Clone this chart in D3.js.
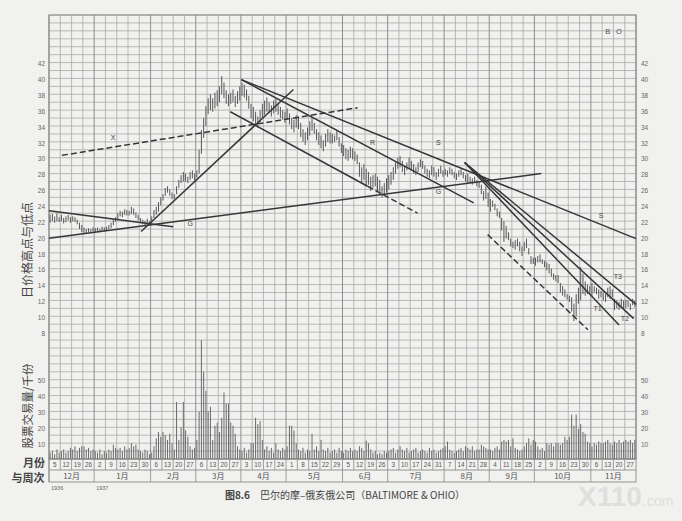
<!DOCTYPE html>
<html><head><meta charset="utf-8">
<script src="https://cdn.jsdelivr.net/npm/d3@7"></script>
<style>html,body{margin:0;padding:0;background:#f1f1ef;}svg{display:block;}</style>
</head><body><svg id="c" width="682" height="521"></svg>
<script>
// ---------- data ----------
const weekLabels = ["5","12","19","26","2","9","16","23","30","6","13","20","27","6","13","20","27","3","10","17","24","1","8","15","22","29","5","12","19","26","3","10","17","24","31","7","14","21","28","4","11","18","25","2","9","16","23","30","6","13","20","27"];
const monthLabels = ["12月","1月","2月","3月","4月","5月","6月","7月","8月","9月","10月","11月"];
const monthWeeks = [4,5,4,4,4,5,4,5,4,4,5,4];
const priceTicks = [8,10,12,14,16,18,20,22,24,26,28,30,32,34,36,38,40,42];
const volumeTicks = [10,20,30,40,50];
// daily high/low, grouped by week
const priceBars = [
 [[22.8,21.8],[22.9,22.0],[22.6,21.8],[23.0,22.0],[22.5,21.9]],
 [[22.8,22.0],[22.4,21.7],[22.6,21.9],[22.8,22.1],[22.5,21.8]],
 [[22.6,22.0],[22.5,21.9],[22.2,21.6],[21.8,21.0],[21.5,20.6]],
 [[21.2,20.5],[21.0,20.4],[21.1,20.6],[21.0,20.5],[21.2,20.7]],
 [[21.1,20.6],[21.2,20.7],[21.0,20.6],[21.3,20.8],[21.2,20.7]],
 [[21.3,20.8],[21.5,21.0],[21.8,21.1],[22.2,21.5],[22.5,21.9]],
 [[23.0,22.2],[23.3,22.6],[23.2,22.5],[23.5,22.8],[23.4,22.7]],
 [[23.3,22.7],[23.8,22.9],[23.6,22.8],[23.1,22.4],[22.8,22.1]],
 [[22.4,21.8],[22.2,21.6],[22.0,21.4],[22.3,21.6],[22.0,21.5]],
 [[22.6,21.8],[23.4,22.4],[23.8,22.8],[24.4,23.2],[25.0,24.0]],
 [[25.4,24.6],[26.2,25.2],[26.4,25.6],[26.0,25.2],[25.6,24.8]],
 [[25.4,24.8],[26.4,25.4],[27.2,26.2],[27.8,26.8],[28.2,27.0]],
 [[28.0,27.0],[27.6,26.8],[28.2,27.2],[28.4,27.4],[28.0,27.1]],
 [[28.4,27.5],[31.0,28.0],[33.5,30.5],[35.0,32.5],[36.5,34.0]],
 [[37.5,35.5],[38.0,36.0],[37.5,35.8],[38.2,36.2],[38.5,36.5]],
 [[39.0,37.0],[40.3,38.0],[39.5,37.5],[38.5,36.8],[38.0,36.5]],
 [[38.2,36.8],[38.6,37.0],[37.8,36.4],[38.4,36.8],[39.0,37.2]],
 [[39.5,37.8],[39.2,37.6],[38.6,37.2],[37.8,36.2],[36.8,35.0]],
 [[36.4,34.6],[35.8,34.0],[35.2,33.8],[36.0,34.4],[36.8,35.0]],
 [[37.2,35.4],[37.6,35.8],[37.0,35.6],[36.6,35.2],[37.2,35.6]],
 [[37.4,35.8],[36.8,35.4],[36.4,35.0],[36.0,34.8],[35.8,34.4]],
 [[36.2,34.8],[35.6,34.2],[35.0,33.6],[34.8,33.2],[35.4,33.8]],
 [[35.2,33.6],[34.4,32.6],[33.6,32.0],[33.2,31.6],[33.8,32.2]],
 [[34.6,32.8],[35.0,33.4],[34.4,33.0],[33.6,32.2],[33.2,31.6]],
 [[32.8,31.2],[32.2,30.8],[33.0,31.4],[33.6,32.0],[33.2,31.8]],
 [[33.0,31.8],[32.8,32.0],[33.4,32.2],[32.6,31.4],[31.8,30.6]],
 [[31.6,30.2],[31.2,29.8],[31.0,29.6],[31.4,30.0],[31.2,29.8]],
 [[30.8,29.6],[30.4,29.2],[29.4,27.6],[28.8,26.8],[29.2,27.2]],
 [[28.6,26.4],[28.2,26.6],[27.6,25.8],[27.8,26.2],[28.0,26.4]],
 [[27.6,25.8],[27.2,25.4],[26.4,25.0],[26.8,25.2],[27.4,25.6]],
 [[27.8,26.0],[28.2,26.6],[28.8,27.2],[29.4,28.0],[30.0,28.6]],
 [[30.2,28.8],[29.6,28.2],[29.0,27.8],[29.4,28.4],[30.0,28.6]],
 [[29.6,28.4],[29.2,28.0],[28.8,27.8],[29.4,28.2],[29.8,28.8]],
 [[29.6,28.6],[29.0,28.0],[28.6,27.6],[28.4,27.4],[29.0,27.8]],
 [[28.8,27.6],[28.2,27.2],[28.6,27.6],[29.0,28.0],[28.4,27.6]],
 [[28.6,27.8],[28.4,27.6],[28.8,28.0],[28.6,27.8],[28.2,27.4]],
 [[28.0,27.2],[28.4,27.6],[28.6,27.8],[28.2,27.4],[27.8,27.0]],
 [[28.0,26.8],[27.6,26.8],[27.4,26.6],[27.6,26.8],[27.2,26.4]],
 [[27.0,26.2],[26.6,25.4],[25.8,24.6],[26.4,24.8],[25.6,23.8]],
 [[24.8,23.2],[24.6,23.8],[24.2,23.4],[23.6,22.6],[23.2,22.4]],
 [[22.4,20.8],[22.0,19.4],[21.4,19.8],[20.6,19.6],[19.8,18.8]],
 [[19.4,18.6],[19.6,18.4],[19.8,18.8],[19.4,18.2],[18.8,17.6]],
 [[19.4,18.2],[19.8,18.6],[18.6,17.8],[17.6,16.6],[17.4,16.6]],
 [[17.4,16.4],[17.6,16.8],[17.8,16.8],[17.2,16.6],[17.0,16.2]],
 [[16.8,15.8],[16.6,15.4],[16.0,15.0],[15.4,14.6],[15.2,14.4]],
 [[15.2,14.2],[14.2,13.0],[13.8,12.6],[13.4,12.4],[12.8,12.1]],
 [[12.6,11.8],[12.4,10.6],[11.6,9.4],[12.8,10.0],[13.6,11.6]],
 [[16.2,12.0],[15.4,12.8],[14.4,12.6],[14.0,12.8],[13.8,13.0]],
 [[14.2,12.6],[13.8,13.0],[13.6,12.8],[13.4,12.2],[13.2,12.4]],
 [[13.0,12.0],[12.8,11.8],[13.6,12.4],[13.8,12.2],[13.4,12.4]],
 [[12.2,10.8],[12.0,11.0],[11.8,10.8],[12.2,11.2],[12.0,11.0]],
 [[12.1,11.0],[12.0,11.2],[11.6,10.8],[12.2,11.4],[12.0,11.2]]
];
// daily volume (thousand shares), grouped by week
const volumes = [
 [4,5,3,6,4],[5,6,4,5,7],[6,8,5,7,8],[8,6,7,5,6],[5,4,6,3,5],[4,6,5,9,7],
 [6,7,5,8,6],[7,10,8,9,6],[5,4,6,5,3],[4,8,13,17,14],[17,15,12,16,10],[6,36,12,20,36],
 [18,14,8,6,7],[12,30,75,55,43],[30,33,12,21,23],[17,26,42,35,35],[23,21,16,8,6],[5,7,4,6,10],
 [10,26,22,24,12],[6,8,5,7,4],[10,6,5,7,6],[8,21,21,18,10],[6,5,7,4,6],[5,16,6,8,5],
 [12,6,5,7,4],[5,6,4,7,5],[4,6,5,7,5],[6,5,8,7,5],[11.5,10,6,4,5],[3,4,3,5,4],
 [5,6,7,4,6],[8,6,5,7,4],[5,6,7,4,5],[6,5,4,7,5],[6,4,5,6,7],[8,11,6,5,4],
 [5,6,7,5,8],[7,6,8,5,6],[6,9,8,7,6],[6,5,7,8,6],[11,12,11,12,8],[13,7,6,5,6],
 [8,10,13,9,12],[11,8,6,7,5],[10,9,10,8,10],[10,9,10,14,12],[14,28,21,28,19],[22,17,16,11,10],
 [8,10,9,11,10],[10,11,12,10,9],[11,10,12,10,11],[12,11,12,10,12]
];
// trend lines: [week, price] endpoints
const trendLines = [
 {a:[1.15,30.3], b:[27.33,36.3], dash:true},
 {a:[0,23.3], b:[11.0,21.3], dash:false},
 {a:[0,19.85], b:[43.6,28.0], dash:false},
 {a:[8.16,20.7], b:[21.65,38.6], dash:false},
 {a:[17.04,39.85], b:[52,19.8], dash:false},
 {a:[17.04,39.85], b:[37.62,24.3], dash:false},
 {a:[16.06,35.8], b:[28.22,26.4], dash:false},
 {a:[28.22,26.4], b:[32.65,23.0], dash:true},
 {a:[36.82,29.4], b:[52,11.5], dash:false},
 {a:[36.82,29.4], b:[51.8,9.7], dash:false},
 {a:[36.82,29.4], b:[50.5,8.9], dash:false},
 {a:[38.86,20.3], b:[47.74,8.3], dash:true}
];
const lineLabels = [
 {t:"X", w:5.68, p:32.5},{t:"G", w:12.5, p:21.6},{t:"R", w:28.66, p:31.8},
 {t:"S", w:34.5, p:31.8},{t:"G", w:34.5, p:25.6},{t:"S", w:48.9, p:22.6},
 {t:"T3", w:50.4, p:14.9},{t:"T1", w:48.6, p:10.9},{t:"T2", w:51.0, p:9.7}
];

// ---------- layout ----------
const L=49, R=636, T=15, B=459;
const svg = d3.select("#c");
const x = d3.scaleLinear().domain([0,52]).range([L,R]);
const y = d3.scaleLinear().domain([-8,48]).range([B,T]);
const yv = d3.scaleLinear().domain([0,280]).range([B,T]);
const font = "'Liberation Sans', Arial, sans-serif";
const cjk = "'Noto Sans CJK SC', sans-serif";

svg.append("rect").attr("width",682).attr("height",521).attr("fill","#f1f1ef");

// grid
const g = svg.append("g");
d3.range(-8,49).forEach(v=>{
  g.append("line").attr("x1",L).attr("x2",R).attr("y1",y(v)).attr("y2",y(v))
   .attr("stroke","#a9a9a9").attr("stroke-width",0.8);
});
const monthStarts = [0]; monthWeeks.reduce((s,n)=>{monthStarts.push(s+n);return s+n;},0);
d3.range(0,53).forEach(w=>{
  const dark = monthStarts.includes(w);
  g.append("line").attr("x1",x(w)).attr("x2",x(w)).attr("y1",T).attr("y2",B)
   .attr("stroke",dark?"#8e8e8e":"#a9a9a9").attr("stroke-width",dark?1:0.8);
});
g.append("rect").attr("x",L).attr("y",T).attr("width",R-L).attr("height",B-T)
 .attr("fill","none").attr("stroke","#8a8a8a").attr("stroke-width",1);

// B O
[["B",49],["O",50]].forEach(([t,w])=>{
  svg.append("text").attr("x",x(w)+5.6).attr("y",y(46)+1).attr("text-anchor","middle")
   .attr("dominant-baseline","middle").attr("font-family",font).attr("font-size",7.5)
   .attr("fill","#555").text(t);
});

// price tick labels
priceTicks.forEach(v=>{
  svg.append("text").attr("x",L-4).attr("y",y(v)+2).attr("text-anchor","end")
   .attr("dominant-baseline","middle").attr("font-family",font).attr("font-size",6.5)
   .attr("fill","#666").text(v);
  svg.append("text").attr("x",R+5).attr("y",y(v)+2).attr("text-anchor","start")
   .attr("dominant-baseline","middle").attr("font-family",font).attr("font-size",6.5)
   .attr("fill","#666").text(v);
});
volumeTicks.forEach(v=>{
  svg.append("text").attr("x",L-4).attr("y",yv(v)+2).attr("text-anchor","end")
   .attr("dominant-baseline","middle").attr("font-family",font).attr("font-size",6.5)
   .attr("fill","#666").text(v);
  svg.append("text").attr("x",R+5).attr("y",yv(v)+2).attr("text-anchor","start")
   .attr("dominant-baseline","middle").attr("font-family",font).attr("font-size",6.5)
   .attr("fill","#666").text(v);
});

// volume bars
const vg = svg.append("g");
volumes.forEach((wk,wi)=>{
  wk.forEach((v,di)=>{
    const xx = x(wi + (di+0.5)/wk.length);
    vg.append("line").attr("x1",xx).attr("x2",xx).attr("y1",yv(0)).attr("y2",yv(v))
      .attr("stroke","#6a6a6a").attr("stroke-width",1);
  });
});

// price bars
const pg = svg.append("g");
priceBars.forEach((wk,wi)=>{
  wk.forEach((d,di)=>{
    const xx = x(wi + (di+0.5)/wk.length);
    pg.append("line").attr("x1",xx).attr("x2",xx).attr("y1",y(d[0])).attr("y2",y(d[1]))
      .attr("stroke","#585858").attr("stroke-width",1);
  });
});

// trend lines
trendLines.forEach(l=>{
  svg.append("line").attr("x1",x(l.a[0])).attr("y1",y(l.a[1])).attr("x2",x(l.b[0])).attr("y2",y(l.b[1]))
    .attr("stroke","#363636").attr("stroke-width",1.5)
    .attr("stroke-dasharray",l.dash?"6,3":null);
});
lineLabels.forEach(l=>{
  svg.append("text").attr("x",x(l.w)).attr("y",y(l.p)).attr("text-anchor","middle")
   .attr("dominant-baseline","middle").attr("font-family",font).attr("font-size",7)
   .attr("fill","#444").text(l.t);
});

// bottom date rows
const rowY1=B, rowY2=470, rowY3=482;
svg.append("rect").attr("x",L).attr("y",rowY1).attr("width",R-L).attr("height",rowY3-rowY1)
 .attr("fill","none").attr("stroke","#8a8a8a").attr("stroke-width",0.9);
svg.append("line").attr("x1",L).attr("x2",R).attr("y1",rowY2).attr("y2",rowY2).attr("stroke","#8a8a8a").attr("stroke-width",0.9);
weekLabels.forEach((t,i)=>{
  svg.append("line").attr("x1",x(i)).attr("x2",x(i)).attr("y1",rowY1).attr("y2",rowY2).attr("stroke","#8a8a8a").attr("stroke-width",0.8);
  svg.append("text").attr("x",x(i+0.5)).attr("y",(rowY1+rowY2)/2+0.5).attr("text-anchor","middle")
   .attr("dominant-baseline","middle").attr("font-family",font).attr("font-size",6.3)
   .attr("fill","#555").text(t);
});
monthLabels.forEach((t,i)=>{
  const s=monthStarts[i], e=monthStarts[i+1];
  svg.append("line").attr("x1",x(s)).attr("x2",x(s)).attr("y1",rowY2).attr("y2",rowY3).attr("stroke","#8a8a8a").attr("stroke-width",0.8);
  svg.append("text").attr("x",x((s+e)/2)).attr("y",(rowY2+rowY3)/2+0.5).attr("text-anchor","middle")
   .attr("dominant-baseline","middle").attr("font-family",cjk).attr("font-size",8)
   .attr("fill","#555").text(t);
});
svg.append("text").attr("x",x(0)+2).attr("y",490).attr("font-family",font).attr("font-size",5.5).attr("fill","#666").text("1936");
svg.append("text").attr("x",x(4)+2).attr("y",490).attr("font-family",font).attr("font-size",5.5).attr("fill","#666").text("1937");

// axis titles
svg.append("text").attr("transform","translate(29,250) rotate(-90)").attr("text-anchor","middle")
 .attr("dominant-baseline","middle").attr("font-family",cjk).attr("font-size",12).attr("fill","#444").text("日价格高点与低点");
svg.append("text").attr("transform","translate(29,406) rotate(-90)").attr("text-anchor","middle")
 .attr("dominant-baseline","middle").attr("font-family",cjk).attr("font-size",11.5).attr("fill","#444").text("股票交易量/千份");
svg.append("text").attr("x",34).attr("y",464).attr("text-anchor","middle").attr("dominant-baseline","middle")
 .attr("font-family",cjk).attr("font-size",11).attr("font-weight","bold").attr("fill","#444").text("月份");
svg.append("text").attr("x",28).attr("y",479).attr("text-anchor","middle").attr("dominant-baseline","middle")
 .attr("font-family",cjk).attr("font-size",11).attr("font-weight","bold").attr("fill","#444").text("与周次");

// caption
const cap = svg.append("text").attr("x",345).attr("y",496).attr("text-anchor","middle")
 .attr("dominant-baseline","middle").attr("font-family",cjk).attr("font-size",10).attr("fill","#444");
cap.append("tspan").attr("font-weight","bold").text("图8.6");
cap.append("tspan").attr("dx",10).text("巴尔的摩–俄亥俄公司（BALTIMORE & OHIO）");

// watermark
svg.append("text").attr("x",578).attr("y",506).attr("font-family",font).attr("font-size",28)
 .attr("font-weight","bold").attr("fill","#dededc").text("X110");
svg.append("text").attr("x",643).attr("y",506).attr("font-family",font).attr("font-size",14)
 .attr("fill","#dededc").text(".com");
</script></body></html>
